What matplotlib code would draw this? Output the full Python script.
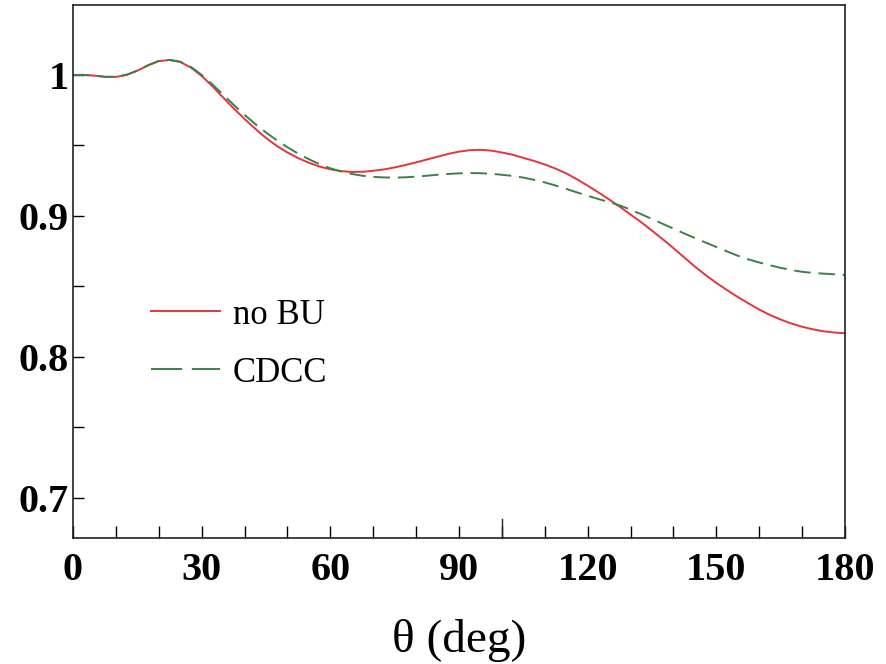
import matplotlib
matplotlib.use("Agg")
import matplotlib.pyplot as plt
import matplotlib.transforms as mtransforms

theta = [0, 2.5, 5, 7.5, 10, 12.5, 15, 17.5, 20, 22.5, 25, 27.5, 30, 32.5, 35, 37.5,
         40, 42.5, 45, 47.5, 50, 52.5, 55, 57.5, 60, 62.5, 65, 67.5, 70, 72.5, 75,
         77.5, 80, 82.5, 85, 87.5, 90, 92.5, 95, 97.5, 100, 102.5, 105, 107.5, 110,
         112.5, 115, 117.5, 120, 122.5, 125, 127.5, 130, 132.5, 135, 137.5, 140,
         142.5, 145, 147.5, 150, 152.5, 155, 157.5, 160, 162.5, 165, 167.5, 170,
         172.5, 175, 177.5, 180]
no_bu = [1.0000, 1.0000, 0.9995, 0.9986, 0.9986, 1.0000, 1.0030, 1.0068, 1.0098,
         1.0106, 1.0092, 1.0052, 0.9993, 0.9920, 0.9840, 0.9762, 0.9688, 0.9618,
         0.9553, 0.9497, 0.9450, 0.9410, 0.9377, 0.9350, 0.9331, 0.9318, 0.9312,
         0.9313, 0.9320, 0.9330, 0.9344, 0.9361, 0.9380, 0.9400, 0.9420, 0.9440,
         0.9456, 0.9466, 0.9469, 0.9463, 0.9450, 0.9434, 0.9412, 0.9390, 0.9365,
         0.9336, 0.9302, 0.9260, 0.9215, 0.9167, 0.9117, 0.9065, 0.9010, 0.8955,
         0.8895, 0.8835, 0.8772, 0.8706, 0.8641, 0.8581, 0.8525, 0.8474, 0.8425,
         0.8380, 0.8336, 0.8298, 0.8265, 0.8237, 0.8214, 0.8196, 0.8182, 0.8173,
         0.8168]
cdcc = [1.0000, 1.0000, 0.9995, 0.9987, 0.9987, 1.0001, 1.0031, 1.0069, 1.0099,
        1.0107, 1.0094, 1.0057, 1.0000, 0.9933, 0.9860, 0.9787, 0.9717, 0.9652,
        0.9592, 0.9537, 0.9487, 0.9442, 0.9402, 0.9367, 0.9338, 0.9315, 0.9298,
        0.9285, 0.9277, 0.9273, 0.9272, 0.9274, 0.9279, 0.9285, 0.9292, 0.9298,
        0.9302, 0.9304, 0.9303, 0.9299, 0.9292, 0.9284, 0.9272, 0.9256, 0.9238,
        0.9216, 0.9192, 0.9167, 0.9143, 0.9120, 0.9098, 0.9074, 0.9045, 0.9012,
        0.8978, 0.8944, 0.8910, 0.8876, 0.8843, 0.8811, 0.8780, 0.8748, 0.8718,
        0.8692, 0.8670, 0.8650, 0.8632, 0.8616, 0.8604, 0.8596, 0.8591, 0.8586,
        0.8582]

xticks = [0, 30, 60, 90, 120, 150, 180]
yticks = [0.7, 0.8, 0.9, 1.0]
ylabels = ["0.7", "0.8", "0.9", "1"]

serif = ["Liberation Serif", "DejaVu Serif"]

fig = plt.figure(figsize=(8.86, 6.64), dpi=100)
ax = fig.add_axes([73/886, 1-538/664, 772/886, 533/664])

ax.plot(theta, no_bu, color="#e8323c", lw=1.4, label="no BU")
ax.plot(theta, cdcc, color="#3c8048", lw=1.4, dashes=(8.5, 4), label="CDCC")

ax.set_xlim(0, 180)
ax.set_ylim(0.6716, 1.0496)

ax.set_xticks(xticks)
ax.set_xticks([t for t in range(10, 180, 10) if t % 30 != 0], minor=True)
ax.set_yticks(yticks)
ax.set_yticklabels(ylabels)
ax.set_yticks([0.75, 0.85, 0.95], minor=True)

for sp in ax.spines.values():
    sp.set_linewidth(1.2)
    sp.set_color("#222222")

ax.tick_params(axis="x", which="both", direction="in", length=9, width=1.0,
               top=False, pad=10)
ax.tick_params(axis="y", which="both", direction="in", length=8, width=1.0,
               right=False, pad=3)
# longer tick at 100
trans = mtransforms.blended_transform_factory(ax.transData, ax.transAxes)
ax.plot([100, 100], [0, 19/533], transform=trans, color="#222222", lw=1.0, clip_on=False)

for lab in ax.get_xticklabels() + ax.get_yticklabels():
    lab.set_family(serif)
    lab.set_fontweight("bold")
    lab.set_fontsize(29)

ax.set_xlabel("θ (deg)", family=serif, fontsize=34, labelpad=22)

leg = ax.legend(loc="center left", bbox_to_anchor=(78/772, (538-344)/533),
                frameon=False, borderpad=0, borderaxespad=0, handlelength=2.0,
                handletextpad=0.35, labelspacing=0.72,
                prop={"family": serif, "size": 25})
leg.get_lines()[1].set_dashes((16, 5))

fig.savefig("out.png", dpi=100)
